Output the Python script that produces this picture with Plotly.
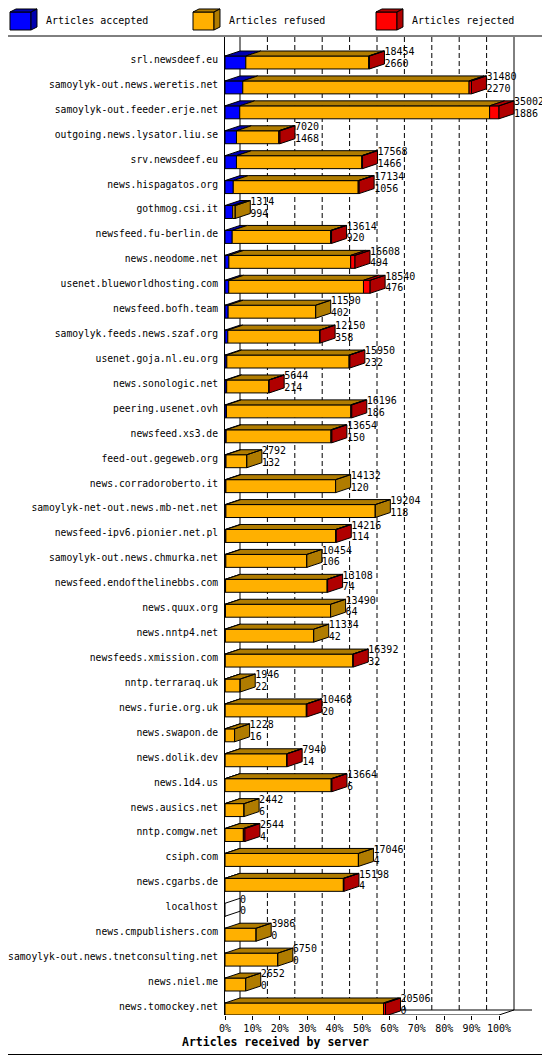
import plotly.graph_objects as go

# news servers, sorted by accepted articles
hosts = [
    "srl.newsdeef.eu", "samoylyk-out.news.weretis.net", "samoylyk-out.feeder.erje.net",
    "outgoing.news.lysator.liu.se", "srv.newsdeef.eu", "news.hispagatos.org",
    "gothmog.csi.it", "newsfeed.fu-berlin.de", "news.neodome.net",
    "usenet.blueworldhosting.com", "newsfeed.bofh.team", "samoylyk.feeds.news.szaf.org",
    "usenet.goja.nl.eu.org", "news.sonologic.net", "peering.usenet.ovh",
    "newsfeed.xs3.de", "feed-out.gegeweb.org", "news.corradoroberto.it",
    "samoylyk-net-out.news.mb-net.net", "newsfeed-ipv6.pionier.net.pl",
    "samoylyk-out.news.chmurka.net", "newsfeed.endofthelinebbs.com", "news.quux.org",
    "news.nntp4.net", "newsfeeds.xmission.com", "nntp.terraraq.uk", "news.furie.org.uk",
    "news.swapon.de", "news.dolik.dev", "news.1d4.us", "news.ausics.net",
    "nntp.comgw.net", "csiph.com", "news.cgarbs.de", "localhost",
    "news.cmpublishers.com", "samoylyk-out.news.tnetconsulting.net", "news.niel.me",
    "news.tomockey.net",
]
offered = [
    18454, 31480, 35002, 7020, 17568, 17134, 1314, 13614, 16608, 18540,
    11590, 12150, 15950, 5644, 16196, 13654, 2792, 14132, 19204, 14216,
    10454, 13108, 13490, 11334, 16392, 1946, 10468, 1228, 7940, 13664,
    2442, 2544, 17046, 15198, 0, 3986, 6750, 2652, 20506,
]
accepted = [
    2660, 2270, 1886, 1468, 1466, 1056, 994, 920, 494, 476,
    402, 358, 232, 214, 186, 150, 132, 120, 118, 114,
    106, 74, 64, 42, 32, 22, 20, 16, 14, 6,
    6, 4, 4, 4, 0, 0, 0, 0, 0,
]
# estimated from the width of the red front faces
rejected = [
    100, 300, 1200, 150, 100, 120, 0, 120, 550, 850,
    0, 80, 100, 50, 120, 120, 0, 0, 0, 80,
    0, 60, 0, 0, 60, 0, 80, 0, 60, 100,
    0, 200, 0, 80, 0, 0, 0, 0, 250,
]
refused = [o - a - r for o, a, r in zip(offered, accepted, rejected)]
tick_labels = ["0%", "10%", "20%", "30%", "40%", "50%", "60%", "70%", "80%", "90%", "100%"]

front = {"acc": "#0000ff", "ref": "#ffb000", "rej": "#ff0000"}
shade = {"acc": "#0000b0", "ref": "#b07c00", "rej": "#b00000"}
FONT = "DejaVu Sans Mono"

# page geometry in pixels of the 550x1055 picture; the page body adds 8px
OFF = 8
W, H = 550 - OFF, 1055 - OFF
left, right, top, bottom = 225, 532, 37, 1015
bar_px = 274          # front length of the longest bar
depth_x, depth_y = 15, 5
pitch = 24.92

xmax = max(offered)
k = bar_px / xmax
x_hi = (right - left) / k
dx = depth_x / k
dy = depth_y / pitch
y_top = -(59.5 - top) / pitch
y_bot = y_top + (bottom - top) / pitch

rows = list(range(len(hosts)))


def px(xp):
    return (xp - left) / (right - left)


def py(yp):
    return (bottom - yp) / (bottom - top)


fig = go.Figure()

# front faces
base_ref = accepted
base_rej = [a + r for a, r in zip(accepted, refused)]
for key, vals, base in [("acc", accepted, [0] * len(rows)),
                        ("ref", refused, base_ref),
                        ("rej", rejected, base_rej)]:
    fig.add_trace(go.Bar(
        orientation="h", y=[r + 0.12 for r in rows], x=vals, base=base, width=0.52,
        marker=dict(color=front[key], line=dict(color="black", width=1)),
        showlegend=False, hoverinfo="skip",
    ))

# top faces and side faces (3d look)
polys = {"acc": ([], []), "ref": ([], []), "rej": ([], []), "none": ([], [])}
for r in rows:
    yt, yb = r - 0.14, r + 0.38
    segs = [("acc", 0, accepted[r]),
            ("ref", accepted[r], base_rej[r]),
            ("rej", base_rej[r], offered[r])]
    last = "none"
    for key, x0, x1 in segs:
        if x1 > x0:
            xs, ys = polys[key]
            xs += [x0, x1, x1 + dx, x0 + dx, x0, None]
            ys += [yt, yt, yt - dy, yt - dy, yt, None]
            last = key
    xe = offered[r]
    xs, ys = polys[last]
    xs += [xe, xe + dx, xe + dx, xe, xe, None]
    ys += [yt, yt - dy, yb - dy, yb, yt, None]

for key, (xs, ys) in polys.items():
    if not xs:
        continue
    fig.add_trace(go.Scatter(
        x=xs, y=ys, mode="lines", fill="toself",
        fillcolor=shade.get(key, "white"),
        line=dict(color="black", width=1),
        showlegend=False, hoverinfo="skip",
    ))

# value labels: offered above, accepted below
fig.add_trace(go.Scatter(
    x=[o + dx for o in offered], y=[r - 0.27 for r in rows],
    text=[str(o) for o in offered], mode="text", textposition="middle right",
    textfont=dict(family=FONT, size=10, color="black"),
    showlegend=False, hoverinfo="skip", cliponaxis=False,
))
fig.add_trace(go.Scatter(
    x=[o + dx for o in offered], y=[r + 0.2 for r in rows],
    text=[str(a) for a in accepted], mode="text", textposition="middle right",
    textfont=dict(family=FONT, size=10, color="black"),
    showlegend=False, hoverinfo="skip", cliponaxis=False,
))

shapes = []
# back wall grid
for i in range(11):
    xg = i / 10 * xmax + dx
    shapes.append(dict(
        type="line", xref="x", yref="y", x0=xg, x1=xg, y0=y_top, y1=y_bot - dy,
        line=dict(color="black", width=1, dash="solid" if i in (0, 10) else "5px,3px"),
        layer="below",
    ))
# floor
shapes.append(dict(type="line", xref="x", yref="y", x0=dx, x1=x_hi, y0=y_bot - dy, y1=y_bot - dy,
                   line=dict(color="black", width=1), layer="below"))
shapes.append(dict(type="line", xref="x", yref="y", x0=0, x1=xmax, y0=y_bot, y1=y_bot,
                   line=dict(color="black", width=1)))
shapes.append(dict(type="line", xref="x", yref="y", x0=xmax, x1=xmax + dx, y0=y_bot, y1=y_bot - dy,
                   line=dict(color="black", width=1)))

# outer frame and legend box
shapes.append(dict(type="rect", xref="paper", yref="paper",
                   x0=px(0.5), x1=px(549.5), y0=py(0.5), y1=py(1054.5),
                   line=dict(color="black", width=1)))
shapes.append(dict(type="line", xref="paper", yref="paper",
                   x0=px(0), x1=px(550), y0=py(36), y1=py(36),
                   line=dict(color="black", width=1)))

annotations = []
legend_items = [("acc", "Articles accepted", 10), ("ref", "Articles refused", 193),
                ("rej", "Articles rejected", 376)]
for key, label, lx in legend_items:
    fx0, fx1, fy0, fy1 = lx, lx + 21, 12, 30
    ox, oy = 6, 3
    faces = [
        ([(fx0, fy0), (fx1, fy0), (fx1, fy1), (fx0, fy1)], front[key]),
        ([(fx0, fy0), (fx0 + ox, fy0 - oy), (fx1 + ox, fy0 - oy), (fx1, fy0)], shade[key]),
        ([(fx1, fy0), (fx1 + ox, fy0 - oy), (fx1 + ox, fy1 - oy), (fx1, fy1)], shade[key]),
    ]
    for pts, col in faces:
        path = "M " + " L ".join(f"{px(a):.5f},{py(b):.5f}" for a, b in pts) + " Z"
        shapes.append(dict(type="path", xref="paper", yref="paper", path=path,
                           fillcolor=col, line=dict(color="black", width=1)))
    annotations.append(dict(
        xref="paper", yref="paper", x=px(lx + 34), y=py(21), text=label,
        showarrow=False, xanchor="left", yanchor="middle",
        font=dict(family=FONT, size=10, color="black"),
    ))

annotations.append(dict(
    xref="paper", yref="paper", x=px(275), y=py(1042),
    text="<b>Articles received by server</b>", showarrow=False,
    xanchor="center", yanchor="middle",
    font=dict(family=FONT, size=11.5, color="black"),
))

fig.update_layout(
    width=W, height=H,
    margin=dict(l=left - OFF, r=W - (right - OFF), t=top - OFF, b=H - (bottom - OFF), pad=0),
    paper_bgcolor="white", plot_bgcolor="white",
    barmode="overlay", showlegend=False,
    shapes=shapes, annotations=annotations,
    font=dict(family=FONT, size=10, color="black"),
    xaxis=dict(
        range=[0, x_hi], tickvals=[i / 10 * xmax for i in range(11)], ticktext=tick_labels,
        ticks="outside", ticklen=4, tickcolor="black", showgrid=False, zeroline=False,
        showline=False, fixedrange=True, automargin=False,
    ),
    yaxis=dict(
        range=[y_bot, y_top], tickvals=rows, ticktext=hosts, ticks="", showgrid=False,
        zeroline=False, showline=True, linecolor="black", linewidth=1,
        ticklabelstandoff=4, fixedrange=True, automargin=False,
        tickfont=dict(family=FONT, size=9.7, color="black"),
    ),
)

fig.write_html("out.html")
